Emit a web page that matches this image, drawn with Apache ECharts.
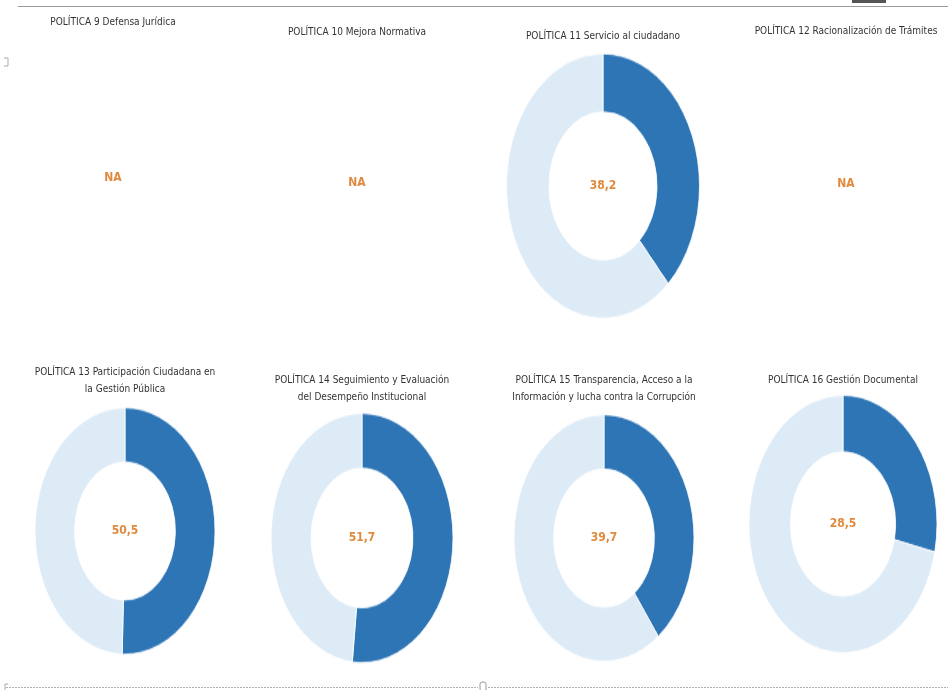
<!DOCTYPE html>
<html>
<head>
<meta charset="utf-8">
<script src="https://cdn.jsdelivr.net/npm/echarts@6/dist/echarts.min.js"></script>
<style>
  html, body { margin: 0; padding: 0; background: #ffffff; }
  #wrap { position: relative; width: 948px; height: 690px; overflow: hidden; }
  #donuts { position: absolute; left: 0; top: 0; width: 948px; height: 504px; transform-origin: 0 0; transform: scaleY(1.37); }
  #labels { position: absolute; left: 0; top: 0; width: 948px; height: 690px; pointer-events: none; }
</style>
</head>
<body>
<div id="wrap">
  <div id="donuts"></div>
  <div id="labels"></div>
</div>
<script>
// ---- data ----
const policyTitles = [
  'POLÍTICA 9 Defensa Jurídica',
  'POLÍTICA 10 Mejora Normativa',
  'POLÍTICA 11 Servicio al ciudadano',
  'POLÍTICA 12 Racionalización de Trámites',
  'POLÍTICA 13 Participación Ciudadana en\nla Gestión Pública',
  'POLÍTICA 14 Seguimiento y Evaluación\ndel Desempeño Institucional',
  'POLÍTICA 15 Transparencia, Acceso a la\nInformación y lucha contra la Corrupción',
  'POLÍTICA 16 Gestión Documental'
];
const scores = [null, null, 38.2, null, 50.5, 51.7, 39.7, 28.5]; // null = NA
const naLabel = 'NA';

// ---- layout (not data) ----
const SY = 1.37;
const panelCx = [113, 357, 603, 846, 125, 362, 604, 843];
const titleCy = [22, 32, 36, 31, 372, 380, 380, 380];
const centerY = [178, 183, 186, 184, 531, 538, 538, 524];
const outerR = [0, 0, 96.5, 0, 90, 91, 90, 94];

const darkBlue = '#2E75B6';
const lightBlue = '#DDEBF7';
const orange = '#E08A3E';
const fontFam = '"Liberation Sans Narrow", "DejaVu Sans Condensed", "Noto Sans", sans-serif';

// ---- donuts ----
const donutChart = echarts.init(document.getElementById('donuts'), null, { renderer: 'canvas' });
const donutSeries = [];
scores.forEach(function (v, i) {
  if (v === null) return;
  donutSeries.push({
    type: 'pie',
    name: policyTitles[i],
    center: [panelCx[i], centerY[i] / SY],
    radius: [outerR[i] * 0.56, outerR[i]],
    startAngle: 90,
    clockwise: true,
    silent: true,
    label: { show: false },
    labelLine: { show: false },
    itemStyle: { borderColor: '#ffffff', borderWidth: 0.8 },
    data: [
      { name: 'Puntaje', value: v, itemStyle: { color: darkBlue } },
      { name: 'Resto', value: +(100 - v).toFixed(1), itemStyle: { color: lightBlue } }
    ]
  });
});
donutChart.setOption({ animation: false, series: donutSeries });

// ---- labels overlay ----
const labelChart = echarts.init(document.getElementById('labels'), null, { renderer: 'canvas' });
const LH = 17.5;
const titles = policyTitles.map(function (t, i) {
  return {
    text: t,
    left: panelCx[i],
    top: titleCy[i] - LH / 2,
    padding: 0,
    textAlign: 'center',
    textStyle: { fontFamily: fontFam, fontSize: 10, fontWeight: 'normal', color: '#333333', lineHeight: LH }
  };
});
const centerTexts = scores.map(function (v, i) {
  return {
    type: 'text',
    x: panelCx[i],
    y: centerY[i],
    style: {
      text: v === null ? naLabel : v.toFixed(1).replace('.', ','),
      align: 'center',
      verticalAlign: 'middle',
      fill: orange,
      font: 'bold 12px ' + fontFam
    }
  };
});
const decor = [
  { type: 'line', shape: { x1: 18, y1: 6.5, x2: 948, y2: 6.5 }, style: { stroke: '#9a9a9a', lineWidth: 1 } },
  { type: 'rect', shape: { x: 852, y: 0, width: 34, height: 3 }, style: { fill: '#555555' } },
  { type: 'polyline', shape: { points: [[4, 58], [8, 58], [8, 66], [4, 66]] }, style: { stroke: '#aaaaaa', lineWidth: 1, fill: null } },
  { type: 'line', shape: { x1: 6, y1: 687.5, x2: 478, y2: 687.5 }, style: { stroke: '#b0b0b0', lineWidth: 1, lineDash: [2, 1] } },
  { type: 'line', shape: { x1: 488, y1: 687.5, x2: 948, y2: 687.5 }, style: { stroke: '#b0b0b0', lineWidth: 1, lineDash: [2, 1] } },
  { type: 'polyline', shape: { points: [[5, 690], [5, 684], [8, 684]] }, style: { stroke: '#aaaaaa', lineWidth: 1, fill: null } },
  { type: 'rect', shape: { x: 480, y: 682, width: 6, height: 9, r: 2 }, style: { stroke: '#9a9a9a', fill: '#ffffff', lineWidth: 1 } }
];
labelChart.setOption({
  animation: false,
  title: titles,
  graphic: { elements: centerTexts.concat(decor) }
});
</script>
</body>
</html>
